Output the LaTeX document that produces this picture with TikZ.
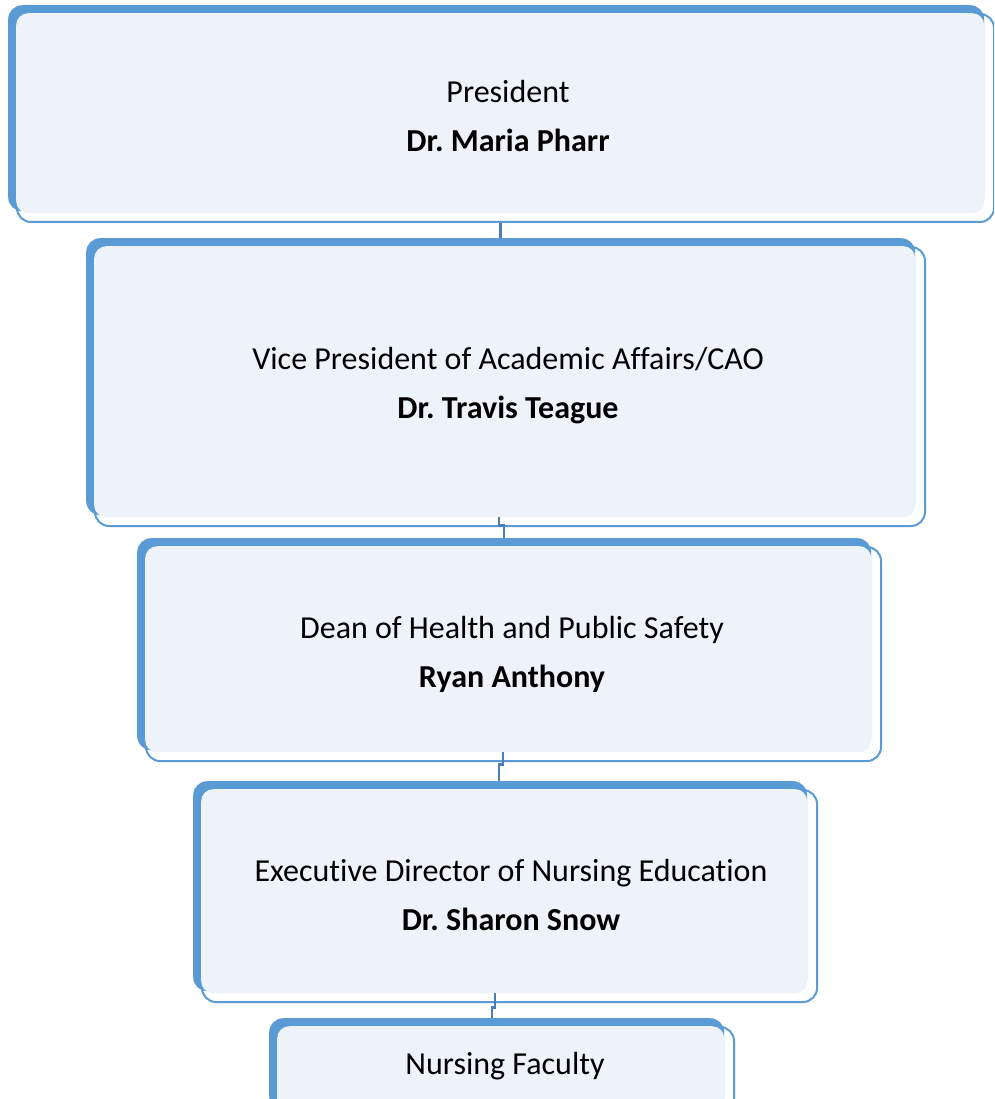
\documentclass[tikz,border=0pt]{standalone}
\usepackage{fontspec}
\setmainfont[Ligatures={NoCommon}]{Carlito}
\usetikzlibrary{calc}
\definecolor{accent}{HTML}{5B9BD5}
\definecolor{panel}{HTML}{EEF2F9}
\definecolor{wire}{HTML}{4A7EBB}
\tikzset{
  backcard/.style={fill=accent, draw=none, rounded corners=14pt, inner sep=0pt, anchor=north west},
  facecard/.style={fill=panel, draw=none, rounded corners=12pt, inner sep=0pt, anchor=north west},
  rimcard/.style={draw=accent, fill=white, line width=2pt, rounded corners=14pt, inner sep=0pt, anchor=north west},
  label/.style={align=center, font=\fontsize{32}{49}\selectfont, text=black},
  wireline/.style={draw=wire, line width=2.2pt}
}
% \orgcard{name}{left}{top}{right}{bottom}
% outline first, then the solid back card, then the pale face on top
\newcommand\orgcard[5]{%
  \pgfmathsetmacro\cw{#4-#2-8}\pgfmathsetmacro\ch{#5-#3-8}%
  \node[rimcard, minimum width=\cw pt, minimum height=\ch pt] (#1) at (#2+8,#3+8) {};
  \pgfmathsetmacro\bw{#4-#2-9}\pgfmathsetmacro\bh{#5-#3-10}%
  \node[backcard, minimum width=\bw pt, minimum height=\bh pt] (#1-back) at (#2,#3) {};
  \pgfmathsetmacro\fw{#4-#2-17}\pgfmathsetmacro\fh{#5-#3-16}%
  \node[facecard, minimum width=\fw pt, minimum height=\fh pt] (#1-face) at (#2+8,#3+8) {};
}
\begin{document}
\frenchspacing
\begin{tikzpicture}[x=1pt, y=-1pt]
\useasboundingbox (0,0) rectangle (994,1099);
\fill[white] (0,0) rectangle (994,1099);
\clip (0,0) rectangle (994,1099);

\orgcard{pres}{8}{5}{993}{221}
\orgcard{vp}{86}{238}{924}{525}
\orgcard{dean}{137}{538}{880}{760}
\orgcard{exec}{193}{781}{816}{1001}
\orgcard{fac}{269}{1018}{733}{1120}

\node[label] (pres-t) at (508,116) {President\\\textbf{Dr. Maria Pharr}};
\node[label] (vp-t) at (508,386) {Vice President of Academic Affairs/CAO\\\textbf{Dr. Travis Teague}};
\node[label] (dean-t) at (512,654) {Dean of Health and Public Safety\\\textbf{Ryan Anthony}};
\node[label] (exec-t) at (511,895) {Executive Director of Nursing Education\\\textbf{Dr. Sharon Snow}};
\node[label] (fac-t) at (505,1066) {Nursing Faculty};

% reporting lines
\draw[wireline] ([xshift=-5pt]pres.south) -- ([xshift=-5pt]pres.south |- vp-back.north);
\draw[wireline] ([xshift=-6pt]vp-face.south) |- ++(5,8) -- ([xshift=-1pt]vp-face.south |- dean-back.north);
\draw[wireline] ([xshift=-5pt]dean-face.south) -- ++(0,12) -| ([xshift=-9pt]dean-face.south |- exec-back.north);
\draw[wireline] ([xshift=-9pt]exec-face.south) -- ++(0,14) -| ([xshift=-12pt]exec-face.south |- fac-back.north);
\end{tikzpicture}
\end{document}
